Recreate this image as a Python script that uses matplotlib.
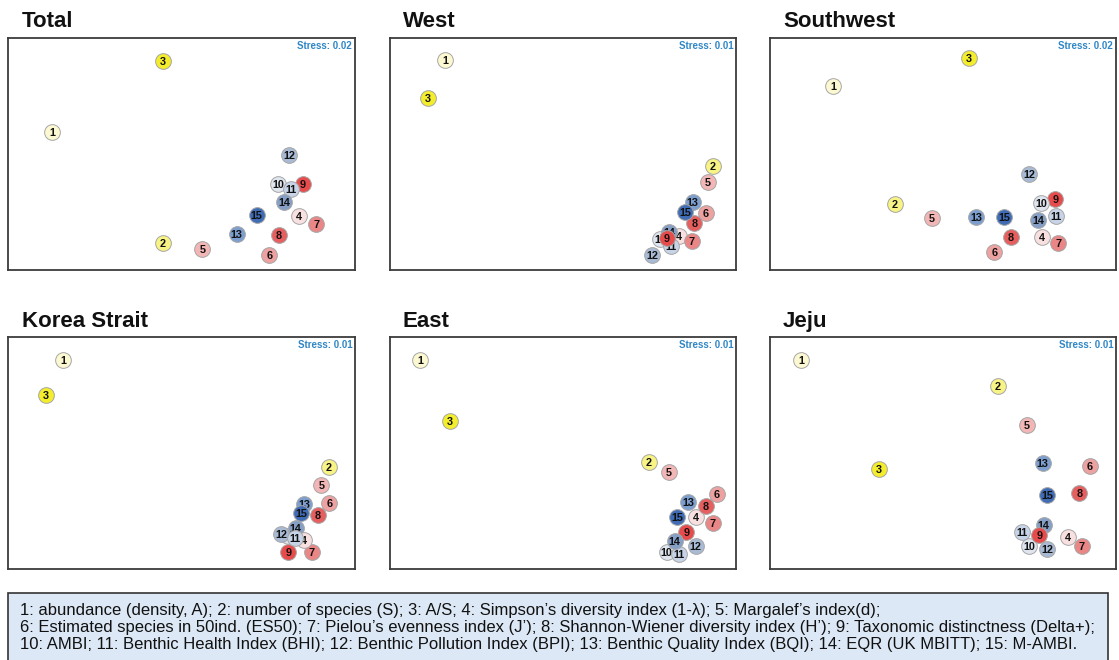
import matplotlib
matplotlib.use("Agg")
import matplotlib.pyplot as plt
from matplotlib.patches import Rectangle

plt.rcParams["font.family"] = ["Liberation Sans", "DejaVu Sans"]

# ---------------------------------------------------------------------------
# nMDS ordination scores of the 15 indices (scaled to the plotting window)
# ---------------------------------------------------------------------------
index_ids = list(range(1, 16))

total_x = [0.127, 0.447, 0.447, 0.838, 0.560, 0.753, 0.888, 0.780, 0.849, 0.779, 0.815, 0.811, 0.659, 0.796, 0.717]
total_y = [0.594, 0.118, 0.902, 0.233, 0.092, 0.065, 0.197, 0.150, 0.371, 0.370, 0.350, 0.495, 0.154, 0.294, 0.239]

west_x = [0.159, 0.933, 0.109, 0.835, 0.918, 0.912, 0.872, 0.880, 0.800, 0.781, 0.812, 0.758, 0.875, 0.806, 0.854]
west_y = [0.904, 0.449, 0.741, 0.148, 0.381, 0.247, 0.125, 0.203, 0.137, 0.134, 0.102, 0.066, 0.295, 0.165, 0.252]

southwest_x = [0.182, 0.361, 0.576, 0.786, 0.467, 0.648, 0.833, 0.696, 0.825, 0.784, 0.826, 0.749, 0.595, 0.775, 0.677]
southwest_y = [0.793, 0.284, 0.914, 0.144, 0.222, 0.079, 0.118, 0.142, 0.304, 0.287, 0.232, 0.412, 0.227, 0.215, 0.227]

korea_x = [0.159, 0.925, 0.109, 0.853, 0.903, 0.926, 0.875, 0.892, 0.808, 0.808, 0.827, 0.788, 0.854, 0.829, 0.844]
korea_y = [0.899, 0.439, 0.751, 0.125, 0.360, 0.283, 0.072, 0.233, 0.072, 0.144, 0.135, 0.153, 0.279, 0.178, 0.240]

east_x = [0.088, 0.748, 0.173, 0.885, 0.805, 0.945, 0.933, 0.912, 0.856, 0.800, 0.835, 0.883, 0.861, 0.823, 0.829]
east_y = [0.902, 0.463, 0.640, 0.222, 0.420, 0.322, 0.197, 0.273, 0.161, 0.072, 0.063, 0.101, 0.288, 0.121, 0.226]

jeju_x = [0.090, 0.659, 0.315, 0.860, 0.743, 0.925, 0.901, 0.894, 0.778, 0.749, 0.727, 0.802, 0.788, 0.791, 0.802]
jeju_y = [0.902, 0.790, 0.432, 0.140, 0.619, 0.442, 0.101, 0.329, 0.147, 0.099, 0.161, 0.086, 0.456, 0.190, 0.319]

regions = ["Total", "West", "Southwest", "Korea Strait", "East", "Jeju"]
stress = [0.02, 0.01, 0.02, 0.01, 0.01, 0.01]

legend_lines = [
    "1: abundance (density, A); 2: number of species (S); 3: A/S; 4: Simpson\u2019s diversity index (1-\u03bb); 5: Margalef\u2019s index(d);",
    "6: Estimated species in 50ind. (ES50); 7: Pielou\u2019s evenness index (J\u2019); 8: Shannon-Wiener diversity index (H\u2019); 9: Taxonomic distinctness (Delta+);",
    "10: AMBI; 11: Benthic Health Index (BHI); 12: Benthic Pollution Index (BPI); 13: Benthic Quality Index (BQI); 14: EQR (UK MBITT); 15: M-AMBI.",
]

# ---------------------------------------------------------------------------
# styling
# ---------------------------------------------------------------------------
point_colors = [
    "#fcf9d2", "#f7f384", "#f3ed2c",              # 1-3 abundance / richness
    "#f9e0e0", "#f2b6b6", "#eea1a1", "#eb8686",   # 4-7 diversity / evenness
    "#e65e5e", "#e84b4b",                          # 8-9
    "#dfe5ef", "#c7d4e8", "#a9bad5",               # 10-12 biotic indices
    "#7c9fd0", "#869fc6", "#3f6cb5",               # 13-15
]
# indices drawn on top of their neighbours in crowded clusters
raised = {"West": [9], "Jeju": [9], "Korea Strait": [11, 4]}

series = [
    (total_x, total_y), (west_x, west_y), (southwest_x, southwest_y),
    (korea_x, korea_y), (east_x, east_y), (jeju_x, jeju_y),
]

W, H = 1119, 660
fig = plt.figure(figsize=(W / 100, H / 100), dpi=100)

col_px = [(8, 355), (390, 736), (770, 1116)]
row_px = [(38, 270), (337, 569)]
title_x_px = [22, 403, 783]
title_base_px = [27, 327]

for k, region in enumerate(regions):
    r, c = divmod(k, 3)
    (l, rr), (t, b) = col_px[c], row_px[r]
    ax = fig.add_axes([l / W, 1 - b / H, (rr - l) / W, (b - t) / H])
    ax.set_xlim(0, 1)
    ax.set_ylim(0, 1)
    ax.set_xticks([])
    ax.set_yticks([])
    for sp in ax.spines.values():
        sp.set_color("#3c3c3c")
        sp.set_linewidth(1.3)

    xs, ys = series[k]
    up = raised.get(region, [])
    for i, (x, y) in enumerate(zip(xs, ys)):
        idx = index_ids[i]
        z = 3 + i * 0.1 + (5 if idx in up else 0)
        ax.scatter([x], [y], s=128, color=point_colors[i], edgecolors="#a6a6a6",
                   linewidths=0.7, zorder=z, clip_on=False)
        ax.text(x, y, str(idx), ha="center", va="center_baseline", fontsize=7.8,
                fontweight="bold", color="#111111", zorder=z + 0.05)

    ax.text(0.992, 0.985, f"Stress: {stress[k]:.2f}", transform=ax.transAxes,
            ha="right", va="top", fontsize=7, fontweight="bold", color="#2f86c6")

    fig.text(title_x_px[c] / W, 1 - title_base_px[r] / H, region,
             ha="left", va="baseline", fontsize=16, fontweight="bold", color="#111111")

# index key panel along the bottom
fig.patches.append(Rectangle((8 / W, 1 - 663 / H), (1108 - 8) / W, (663 - 593) / H,
                             transform=fig.transFigure, facecolor="#dce8f5",
                             edgecolor="#333333", linewidth=1.2, zorder=0))
for j, line in enumerate(legend_lines):
    fig.text(20 / W, 1 - (611 + j * 16.7) / H, line, ha="left", va="center",
             fontsize=12, color="#111111")

fig.savefig("out.png", dpi=100)
